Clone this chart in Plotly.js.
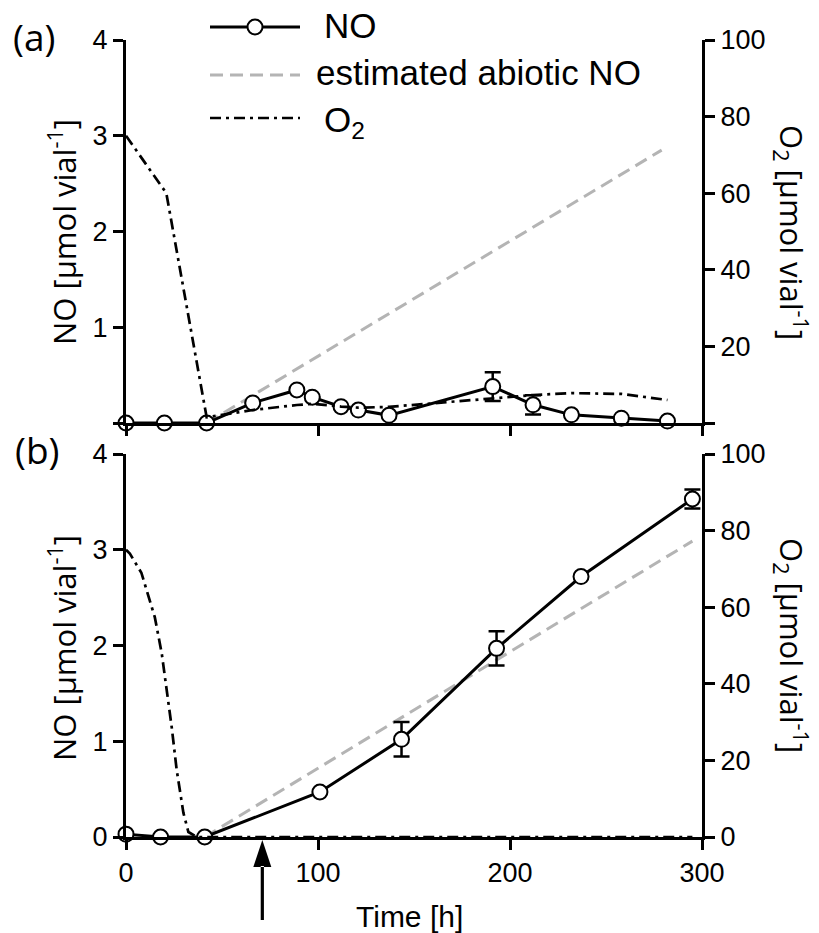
<!DOCTYPE html>
<html>
<head>
<meta charset="utf-8">
<script src="https://cdn.plot.ly/plotly-3.0.1.min.js"></script>
<style>html,body{margin:0;padding:0;background:#fff;}#chart{width:819px;height:933px;}</style>
</head>
<body>
<div id="chart"></div>
<script>
// ---- Data (panel a) ----
const tTop = [0, 20, 42, 66, 89, 97, 112, 121, 137, 191, 212, 232, 258, 282];
const noTop = [0, 0, 0, 0.21, 0.345, 0.27, 0.17, 0.135, 0.08, 0.38, 0.19, 0.085, 0.05, 0.02];
const noTopErr = [0, 0, 0, 0, 0, 0, 0, 0, 0, 0.15, 0.1, 0, 0, 0];
const abioticTopT = [42, 279];
const abioticTop = [0, 2.85];
const o2TopT = [0, 21, 42, 66, 89, 97, 112, 121, 137, 191, 212, 232, 258, 282];
const o2Top = [75, 60, 1.5, 3.4, 4.7, 5, 4.3, 4, 4.2, 6.5, 7.3, 7.8, 7.6, 6.0];

// ---- Data (panel b) ----
const tBot = [0, 18, 41, 101, 143.5, 193, 237, 295];
const noBot = [0.03, 0, 0, 0.47, 1.02, 1.97, 2.72, 3.53];
const noBotErr = [0, 0, 0, 0, 0.18, 0.18, 0, 0.1];
const abioticBotT = [41, 295];
const abioticBot = [0, 3.09];
const o2BotT = [0, 2, 8, 15, 18.6, 21.2, 23.8, 26.4, 29.9, 32.5, 37, 100, 200, 295];
const o2Bot = [75, 74, 69, 57.4, 48, 39, 28.7, 17.5, 6.3, 1.3, 0, 0, 0, 0];

const arrowTime = 71;

const xTicks = [0, 100, 200, 300];
const noTicks = [0, 1, 2, 3, 4];
const o2Ticks = [0, 20, 40, 60, 80, 100];

// ---- Layout helpers ----
const W = 819, H = 933;
const L = 126, R = 702, T = 40, B = 837;
const px = x => (x - L) / (R - L);
const py = y => (B - y) / (B - T);

const tickFont = {family: 'Liberation Sans, Arial, sans-serif', size: 27, color: '#000'};
const titleFont = {family: 'Open Sans, sans-serif', size: 31, color: '#000'};
const legFont = {family: 'Liberation Sans, Arial, sans-serif', size: 35, color: '#000'};
const panelFont = {family: 'Open Sans, sans-serif', size: 37, color: '#000'};

const noColor = '#000';
const abioticColor = '#b4b4b4';
const o2Dash = '11px,5px,3px,5px';
const abDash = '13px,7px';

function axisBase(extra) {
  return Object.assign({
    showline: true, linecolor: '#000', linewidth: 3,
    ticks: 'outside', ticklen: 10, tickwidth: 3, tickcolor: '#000',
    showgrid: false, zeroline: false, tickfont: tickFont, fixedrange: true
  }, extra);
}

const markerStyle = {symbol: 'circle', size: 15, color: '#fff', line: {color: '#000', width: 2}};
const errStyle = a => ({type: 'data', array: a, visible: true, color: '#000', thickness: 2.5, width: 8});

const traces = [
  // panel a
  {x: abioticTopT, y: abioticTop, xaxis: 'x', yaxis: 'y', mode: 'lines',
   line: {color: abioticColor, width: 3, dash: abDash}, cliponaxis: false, showlegend: false},
  {x: o2TopT, y: o2Top, xaxis: 'x', yaxis: 'y2', mode: 'lines',
   line: {color: '#000', width: 2.7, dash: o2Dash}, cliponaxis: false, showlegend: false},
  {x: tTop, y: noTop, xaxis: 'x', yaxis: 'y', mode: 'lines+markers',
   line: {color: noColor, width: 3}, marker: markerStyle, error_y: errStyle(noTopErr),
   cliponaxis: false, showlegend: false},
  // panel b
  {x: abioticBotT, y: abioticBot, xaxis: 'x2', yaxis: 'y3', mode: 'lines',
   line: {color: abioticColor, width: 3, dash: abDash}, cliponaxis: false, showlegend: false},
  {x: o2BotT, y: o2Bot, xaxis: 'x2', yaxis: 'y4', mode: 'lines',
   line: {color: '#000', width: 2.7, dash: o2Dash}, cliponaxis: false, showlegend: false},
  {x: tBot, y: noBot, xaxis: 'x2', yaxis: 'y3', mode: 'lines+markers',
   line: {color: noColor, width: 3}, marker: markerStyle, error_y: errStyle(noBotErr),
   cliponaxis: false, showlegend: false}
];

const topDom = [py(423), 1];
const botDom = [0, py(454)];

const layout = {
  width: W, height: H,
  margin: {l: L, r: W - R, t: T, b: H - B, pad: 0},
  paper_bgcolor: '#fff', plot_bgcolor: 'rgba(0,0,0,0)',
  showlegend: false,
  xaxis: axisBase({domain: [0, 1], range: [0, 300], anchor: 'y', tickvals: xTicks, showticklabels: false}),
  yaxis: axisBase({domain: topDom, range: [0, 4], anchor: 'x', tickvals: noTicks,
    ticktext: ['', '1', '2', '3', '4']}),
  yaxis2: axisBase({overlaying: 'y', side: 'right', anchor: 'x', range: [0, 100], tickvals: o2Ticks,
    ticktext: ['', '20', '40', '60', '80', '100']}),
  xaxis2: axisBase({domain: [0, 1], range: [0, 300], anchor: 'y3', tickvals: xTicks}),
  yaxis3: axisBase({domain: botDom, range: [0, 4], anchor: 'x2', tickvals: noTicks}),
  yaxis4: axisBase({overlaying: 'y3', side: 'right', anchor: 'x2', range: [0, 100], tickvals: o2Ticks}),
  annotations: [
    {text: '(a)', xref: 'paper', yref: 'paper', x: px(34), y: py(37), showarrow: false,
     xanchor: 'center', yanchor: 'middle', font: panelFont},
    {text: '(b)', xref: 'paper', yref: 'paper', x: px(37), y: py(449), showarrow: false,
     xanchor: 'center', yanchor: 'middle', font: panelFont},
    {text: 'NO [µmol vial<sup>-1</sup>]', xref: 'paper', yref: 'paper', x: px(62), y: py(232),
     textangle: -90, showarrow: false, xanchor: 'center', yanchor: 'middle', font: titleFont},
    {text: 'O<sub>2</sub> [µmol vial<sup>-1</sup>]', xref: 'paper', yref: 'paper', x: px(792), y: py(232),
     textangle: 90, showarrow: false, xanchor: 'center', yanchor: 'middle', font: titleFont},
    {text: 'NO [µmol vial<sup>-1</sup>]', xref: 'paper', yref: 'paper', x: px(62), y: py(648),
     textangle: -90, showarrow: false, xanchor: 'center', yanchor: 'middle', font: titleFont},
    {text: 'O<sub>2</sub> [µmol vial<sup>-1</sup>]', xref: 'paper', yref: 'paper', x: px(792), y: py(645),
     textangle: 90, showarrow: false, xanchor: 'center', yanchor: 'middle', font: titleFont},
    {text: 'Time [h]', xref: 'paper', yref: 'paper', x: px(409), y: py(917), showarrow: false,
     xanchor: 'center', yanchor: 'middle', font: {family: 'Liberation Sans, Arial, sans-serif', size: 30, color: '#000'}},
    // legend texts
    {text: 'NO', xref: 'paper', yref: 'paper', x: px(322), y: py(26), showarrow: false,
     xanchor: 'left', yanchor: 'middle', font: legFont},
    {text: 'estimated abiotic NO', xref: 'paper', yref: 'paper', x: px(314), y: py(73), showarrow: false,
     xanchor: 'left', yanchor: 'middle', font: legFont},
    {text: 'O<sub>2</sub>', xref: 'paper', yref: 'paper', x: px(322), y: py(122), showarrow: false,
     xanchor: 'left', yanchor: 'middle', font: legFont}
  ],
  shapes: [
    // legend samples
    {type: 'line', xref: 'paper', yref: 'paper', x0: px(210), x1: px(300), y0: py(27), y1: py(27),
     line: {color: noColor, width: 3}},
    {type: 'circle', xref: 'paper', yref: 'paper', xsizemode: 'pixel', ysizemode: 'pixel',
     xanchor: px(255), yanchor: py(27), x0: -7.5, x1: 7.5, y0: -7.5, y1: 7.5,
     fillcolor: '#fff', line: {color: '#000', width: 2}},
    {type: 'line', xref: 'paper', yref: 'paper', x0: px(210), x1: px(300), y0: py(75), y1: py(75),
     line: {color: abioticColor, width: 3, dash: abDash}},
    {type: 'line', xref: 'paper', yref: 'paper', x0: px(210), x1: px(300), y0: py(118), y1: py(118),
     line: {color: '#000', width: 2.7, dash: o2Dash}},
    // arrow marking time point
    {type: 'path', xref: 'x2', yref: 'paper', xsizemode: 'pixel', ysizemode: 'pixel',
     xanchor: arrowTime, yanchor: 0,
     path: 'M0,-3 L-9,-30 L9,-30 Z M-1.6,-29 L1.6,-29 L1.6,-83 L-1.6,-83 Z',
     fillcolor: '#000', line: {color: '#000', width: 0}}
  ]
};

Plotly.newPlot('chart', traces, layout, {staticPlot: true, displayModeBar: false});
</script>
</body>
</html>
